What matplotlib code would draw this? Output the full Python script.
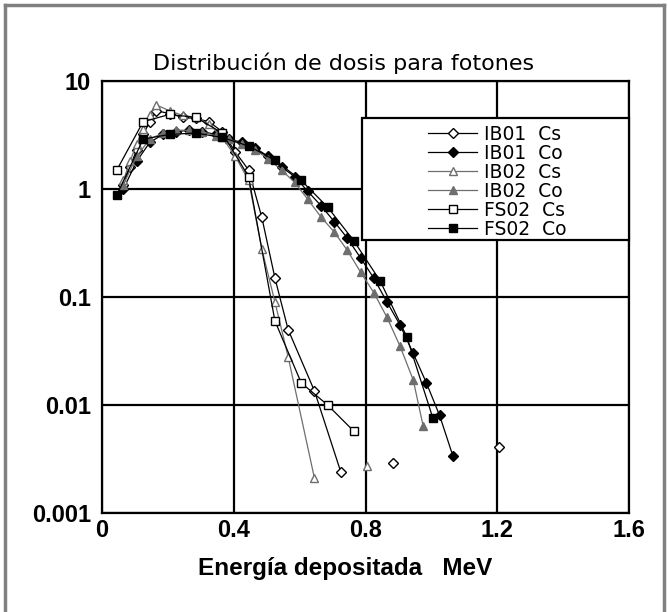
import numpy as np
import matplotlib
matplotlib.use("Agg")
import matplotlib.pyplot as plt
from matplotlib.patches import Rectangle
from matplotlib.lines import Line2D

# ---------------- data ----------------
nan = np.nan
ib01_cs_e = [0.065, 0.085, 0.105, 0.125, 0.145, 0.165, 0.205, 0.245, 0.285, 0.325, 0.365, 0.405,
             0.445, 0.485, 0.525, 0.565, 0.645, 0.725, 0.80, 0.885, 1.00, 1.205]
ib01_cs_v = [1.1, 1.6, 2.3, 3.2, 4.2, 5.3, 5.0, 4.6, 4.5, 4.2, 3.4, 2.2,
             1.5, 0.55, 0.15, 0.05, 0.0135, 0.0024, nan, 0.0029, nan, 0.0041]

ib01_co_e = [0.065, 0.105, 0.145, 0.185, 0.225, 0.265, 0.305, 0.345, 0.385, 0.425, 0.465, 0.505,
             0.545, 0.585, 0.625, 0.665, 0.705, 0.745, 0.785, 0.825, 0.865, 0.905, 0.945, 0.985,
             1.025, 1.065]
ib01_co_v = [1.0, 1.8, 2.7, 3.2, 3.4, 3.5, 3.4, 3.2, 2.9, 2.7, 2.4, 2.0,
             1.6, 1.3, 0.95, 0.7, 0.5, 0.35, 0.23, 0.15, 0.09, 0.055, 0.03, 0.016,
             0.008, 0.0034]

ib02_cs_e = [0.065, 0.085, 0.105, 0.125, 0.145, 0.165, 0.205, 0.245, 0.285, 0.325, 0.365, 0.405,
             0.445, 0.485, 0.525, 0.565, 0.645, 0.72, 0.805]
ib02_cs_v = [1.2, 1.8, 2.6, 3.6, 4.8, 6.0, 5.3, 4.8, 4.6, 4.0, 3.0, 2.0,
             1.2, 0.28, 0.09, 0.028, 0.0021, nan, 0.0027]

ib02_co_e = [0.065, 0.105, 0.145, 0.185, 0.225, 0.265, 0.305, 0.345, 0.385, 0.425, 0.465, 0.505,
             0.545, 0.585, 0.625, 0.665, 0.705, 0.745, 0.785, 0.825, 0.865, 0.905, 0.945, 0.975]
ib02_co_v = [1.1, 2.0, 2.9, 3.3, 3.5, 3.5, 3.4, 3.1, 2.9, 2.6, 2.3, 1.9,
             1.5, 1.15, 0.8, 0.55, 0.4, 0.27, 0.17, 0.11, 0.065, 0.035, 0.017, 0.0064]

fs02_cs_e = [0.045, 0.125, 0.205, 0.285, 0.365, 0.445, 0.525, 0.605, 0.685, 0.765]
fs02_cs_v = [1.5, 4.2, 4.9, 4.6, 3.3, 1.3, 0.06, 0.016, 0.010, 0.0057]

fs02_co_e = [0.045, 0.125, 0.205, 0.285, 0.365, 0.445, 0.525, 0.605, 0.685, 0.765, 0.845, 0.925, 1.005]
fs02_co_v = [0.88, 2.9, 3.2, 3.3, 3.0, 2.5, 1.85, 1.2, 0.68, 0.33, 0.14, 0.043, 0.0075]

labels = ["IB01  Cs", "IB01  Co", "IB02  Cs", "IB02  Co", "FS02  Cs", "FS02  Co"]
x_ticks = [0, 0.4, 0.8, 1.2, 1.6]
x_ticklabels = ["0", "0.4", "0.8", "1.2", "1.6"]
y_ticks = [0.001, 0.01, 0.1, 1, 10]
y_ticklabels = ["0.001", "0.01", "0.1", "1", "10"]
title = "Distribución de dosis para fotones"
xlabel = "Energía depositada   MeV"

# ---------------- figure ----------------
W, H = 668, 612
fig = plt.figure(figsize=(W / 100, H / 100), dpi=100)
fig.patch.set_facecolor("white")
ax = fig.add_axes([102 / W, 1 - 513 / H, (629 - 102) / W, (513 - 81) / H])

gray = "#6e6e6e"
common = dict(linewidth=0.9, markersize=5.5, markeredgewidth=1.0)
dia = dict(common, markersize=4.8)
ax.plot(ib01_cs_e, ib01_cs_v, color="black", marker="D", markerfacecolor="white",
        markeredgecolor="black", label=labels[0], **dia)
ax.plot(ib01_co_e, ib01_co_v, color="black", marker="D", markerfacecolor="black",
        markeredgecolor="black", label=labels[1], **dia)
ax.plot(ib02_cs_e, ib02_cs_v, color=gray, marker="^", markerfacecolor="white",
        markeredgecolor=gray, label=labels[2], **dict(common, markersize=6))
ax.plot(ib02_co_e, ib02_co_v, color=gray, marker="^", markerfacecolor=gray,
        markeredgecolor=gray, label=labels[3], **dict(common, markersize=6))
ax.plot(fs02_cs_e, fs02_cs_v, color="black", marker="s", markerfacecolor="white",
        markeredgecolor="black", label=labels[4], **common)
ax.plot(fs02_co_e, fs02_co_v, color="black", marker="s", markerfacecolor="black",
        markeredgecolor="black", label=labels[5], **common)

ax.set_yscale("log")
ax.set_xlim(0, 1.6)
ax.set_ylim(0.001, 10)
ax.set_xticks(x_ticks)
ax.set_xticklabels(x_ticklabels)
ax.set_yticks(y_ticks)
ax.set_yticklabels(y_ticklabels)
ax.minorticks_off()
ax.tick_params(axis="y", length=0, pad=8)
ax.tick_params(axis="x", length=0, pad=4)
for lab in ax.get_xticklabels() + ax.get_yticklabels():
    lab.set_fontfamily("Liberation Sans")
    lab.set_fontweight("bold")
    lab.set_fontsize(17)
ax.grid(True, color="black", linewidth=1.6)
ax.set_axisbelow(True)
for sp in ax.spines.values():
    sp.set_linewidth(1.6)

ax.set_xlabel(xlabel, fontfamily="Liberation Sans", fontweight="bold", fontsize=17.5, labelpad=11)
ax.xaxis.label.set_x(0.462)

fig.text(344 / W, 1 - 63 / H, title, ha="center", va="center",
         fontfamily="DejaVu Sans", fontsize=16)

# legend box
rect = Rectangle((0.493, 0.632), 0.507, 0.282, transform=ax.transAxes,
                 facecolor="white", edgecolor="black", linewidth=1.6, zorder=5, clip_on=False)
ax.add_patch(rect)
leg = ax.legend(loc="upper left", bbox_to_anchor=(0.619, 0.899), frameon=False,
                borderpad=0, borderaxespad=0, handlelength=2.6, handletextpad=0.4,
                labelspacing=0.0, prop={"family": "DejaVu Sans", "size": 13.5})
leg.set_zorder(6)

# outer gray frame
for xs, ys in [([5 / W, 5 / W], [0, 1 - 5 / H]), ([5 / W, 664 / W], [1 - 5 / H, 1 - 5 / H]),
               ([664 / W, 664 / W], [0, 1 - 5 / H])]:
    fig.add_artist(Line2D(xs, ys, transform=fig.transFigure, color="#808080", linewidth=2.5))

fig.savefig("out.png", dpi=100)
